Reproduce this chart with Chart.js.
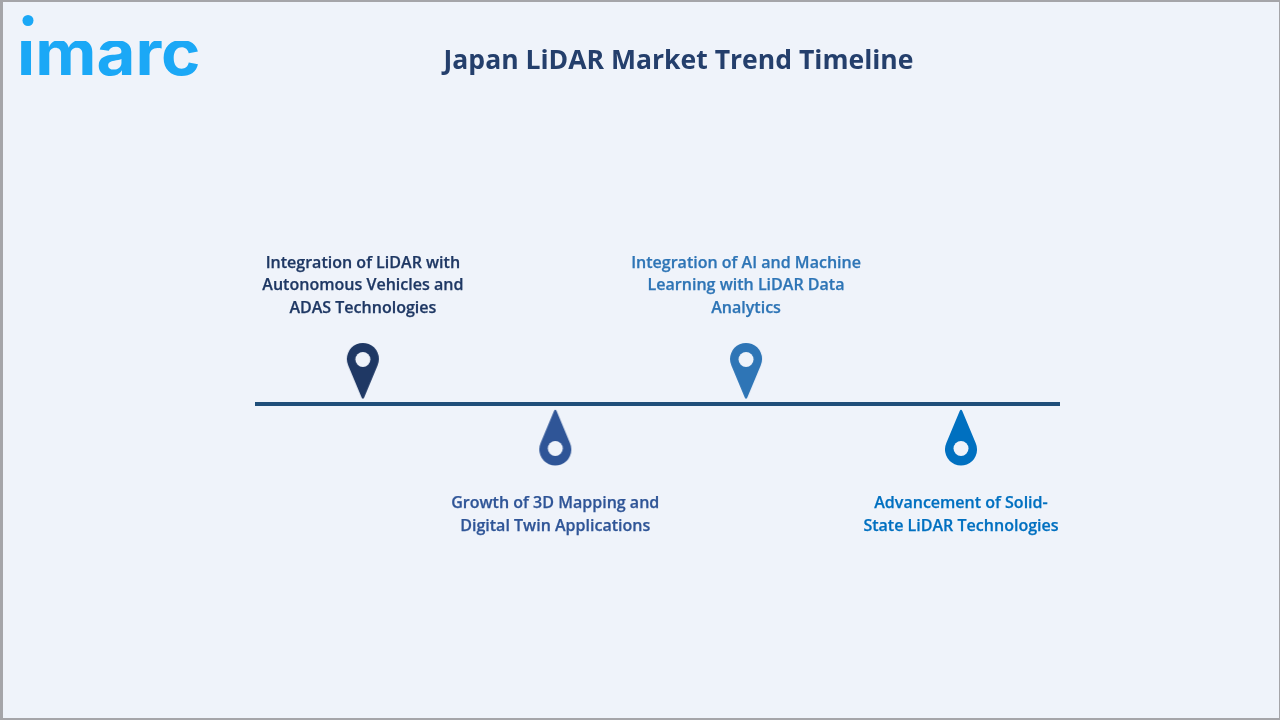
<!DOCTYPE html>
<html><head><meta charset="utf-8">
<script src="https://cdn.jsdelivr.net/npm/chart.js@4"></script>
<style>
html,body{margin:0;padding:0;background:#eff3fa;overflow:hidden}
#wrap{position:relative;width:1280px;height:720px}
#frame{position:absolute;left:0;top:0;width:1280px;height:720px;box-sizing:border-box;pointer-events:none;
border-style:solid;border-color:#a5a5a9;border-width:2px 1px 2px 3px}
canvas{display:block}
</style></head><body>
<div id="wrap"><canvas id="c" width="1280" height="720"></canvas><div id="frame"></div></div>
<script>
const chartTitle = "Japan LiDAR Market Trend Timeline";
const brand = "imarc";
const categories = [
  ["Integration of LiDAR with","Autonomous Vehicles and","ADAS Technologies"],
  ["Growth of 3D Mapping and","Digital Twin Applications"],
  ["Integration of AI and Machine","Learning with LiDAR Data","Analytics"],
  ["Advancement of Solid-","State LiDAR Technologies"]
];
// position along the timeline, percent of its length
const positions = [13.4, 37.3, 61.0, 87.7];
// +1 = above the line, -1 = below
const sides = [1, -1, 1, -1];
const colours = ["#1f3864","#2f5597","#2e75b6","#0070c0"];
const axisEnds = [0, 100];
const axisColour = "#1f4e79";
const FONT = '"Open Sans"';

function makePin(colour, up){
  const c = document.createElement('canvas');
  c.width = 34; c.height = 60;
  const x = c.getContext('2d');
  x.translate(17,30);
  if(!up){ x.translate(0,0.5); x.scale(1,-1); }
  x.fillStyle = colour;
  x.beginPath();
  // head with straight tangents running to the tip
  x.arc(0,-12,16,156.4*Math.PI/180,23.6*Math.PI/180,false);
  x.lineTo(1.3,26.6);
  x.quadraticCurveTo(0,29,-1.3,26.6);
  x.closePath();
  x.fill();
  x.fillStyle = "#eff3fa";
  x.beginPath();
  x.arc(0,up?-11.5:-11,7.5,0,Math.PI*2);
  x.fill();
  return c;
}
const pins = colours.map((col,i)=>makePin(col, sides[i]>0));

const decor = {
  id:'decor',
  beforeDraw(ch){
    const g = ch.ctx;
    g.save();
    g.fillStyle = "#eff3fa";
    g.fillRect(0,0,1280,720);
    g.restore();
  },
  afterDraw(ch){
    const g = ch.ctx, xs = ch.scales.x;
    g.save();
    // title
    g.textAlign='center'; g.textBaseline='middle';
    g.fillStyle="#243f6c";
    g.font='700 26.55px '+FONT;
    g.fillText(chartTitle,678.5,61);
    // labels
    g.font='600 16.05px '+FONT;
    categories.forEach((lines,i)=>{
      const x = xs.getPixelForValue(positions[i]);
      g.fillStyle = colours[i];
      g.strokeStyle = colours[i];
      g.lineWidth = 0.25;
      lines.forEach((t,k)=>{
        const y = sides[i]>0 ? 263+k*22.5 : 503+k*23;
        g.fillText(t,x,y);
        g.strokeText(t,x,y);
      });
    });
    // logo: wordmark, with its i-dot set higher as in the brand mark
    g.fillStyle="#1ba8f6";
    g.textAlign='left'; g.textBaseline='alphabetic';
    g.save();
    g.beginPath(); g.rect(0,41,260,60); g.clip();
    g.translate(17,75);
    g.scale(1.10,1.03);
    g.font='700 61px Inter';
    g.fillText(brand,0,0);
    g.restore();
    g.beginPath();
    g.arc(28,20.5,5.5,0,Math.PI*2);
    g.fill();
    g.restore();
  }
};

new Chart(document.getElementById('c'),{
  type:'scatter',
  data:{datasets:[
    {label:'Trends',data:positions.map((p,i)=>({x:p,y:sides[i]})),
     pointStyle:pins,pointRadius:17,pointHoverRadius:17,showLine:false,order:0,clip:false},
    {label:'Timeline',data:axisEnds.map(p=>({x:p,y:0})),showLine:true,
     borderColor:axisColour,borderWidth:4,pointRadius:0,order:1,clip:false}
  ]},
  plugins:[decor],
  options:{
    responsive:false,animation:false,devicePixelRatio:1,
    layout:{padding:{left:255,right:220,top:371,bottom:283}},
    plugins:{legend:{display:false},tooltip:{enabled:false},title:{display:false}},
    scales:{
      x:{type:'linear',min:0,max:100,display:false},
      y:{type:'linear',min:-1,max:1,display:false}
    }
  }
});
</script>
</body></html>
